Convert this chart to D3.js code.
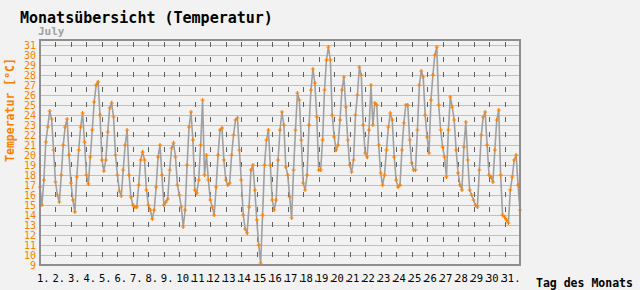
<!DOCTYPE html>
<html>
<head>
<meta charset="utf-8">
<script src="https://cdn.jsdelivr.net/npm/d3@7"></script>
<style>
  body { margin: 0; background: #f2f2f2; }
  svg { display: block; font-family: "DejaVu Sans Mono", monospace; }
</style>
</head>
<body>
<svg id="chart" width="640" height="290"></svg>
<script>
// readings, every 3 hours, one row per day of july
var hours = [0, 3, 6, 9, 12, 15, 18, 21];
var temps = [
  [16.8, 15.0, 17.5, 21.3, 22.8, 24.4, 23.6, 20.5],
  [17.3, 16.0, 15.3, 18.0, 21.0, 22.8, 23.6, 20.0],
  [17.2, 15.5, 14.3, 17.8, 20.5, 22.8, 24.2, 21.3],
  [18.0, 17.1, 19.8, 22.5, 25.3, 27.0, 27.3, 24.0],
  [19.5, 18.4, 19.5, 22.3, 24.7, 25.2, 23.8, 20.0],
  [18.0, 16.4, 15.9, 18.5, 21.0, 22.5, 18.0, 15.8],
  [15.0, 14.8, 14.8, 17.0, 19.5, 20.3, 19.5, 16.5],
  [15.0, 14.5, 13.6, 14.5, 16.8, 19.8, 21.0, 18.0],
  [15.0, 15.3, 15.6, 18.5, 20.7, 21.2, 19.8, 17.0],
  [16.0, 14.8, 12.8, 14.5, 19.0, 22.8, 24.3, 21.5],
  [16.5, 16.2, 17.5, 21.0, 25.5, 18.0, 20.0, 17.5],
  [15.5, 14.8, 14.0, 16.8, 20.0, 22.5, 22.7, 19.5],
  [17.5, 17.0, 17.2, 20.0, 22.0, 23.5, 23.7, 20.5],
  [17.5, 14.0, 12.6, 12.2, 14.8, 18.5, 19.0, 16.5],
  [13.5, 11.0, 9.2, 14.0, 19.0, 21.5, 22.5, 19.0],
  [15.5, 14.5, 15.5, 19.5, 22.5, 24.3, 23.0, 18.8],
  [18.0, 15.8, 13.7, 18.5, 22.5, 26.2, 25.5, 21.5],
  [17.2, 16.5, 18.0, 23.0, 26.5, 28.6, 27.2, 23.8],
  [18.5, 18.5, 21.5, 26.5, 29.5, 30.8, 29.5, 24.0],
  [21.8, 20.5, 21.0, 23.5, 26.5, 27.8, 24.8, 21.5],
  [19.0, 18.3, 19.5, 24.0, 26.0, 28.8, 28.0, 23.0],
  [20.2, 19.8, 22.5, 27.0, 23.0, 25.2, 25.0, 21.0],
  [18.2, 17.0, 18.0, 20.5, 22.8, 24.2, 23.5, 19.8],
  [17.5, 16.8, 17.0, 20.5, 23.2, 25.0, 25.0, 21.5],
  [19.2, 18.5, 18.5, 22.5, 27.0, 28.4, 27.8, 24.0],
  [21.8, 20.2, 25.5, 28.0, 30.0, 30.8, 25.0, 22.5],
  [20.8, 19.8, 17.8, 22.5, 25.8, 24.8, 23.5, 20.5],
  [18.2, 17.0, 16.5, 20.8, 23.3, 19.5, 16.5, 16.0],
  [15.5, 15.0, 14.8, 18.5, 22.0, 23.8, 24.3, 21.0],
  [18.0, 17.8, 17.3, 20.5, 23.5, 24.5, 18.0, 14.0],
  [13.8, 13.5, 13.2, 16.5, 17.8, 19.5, 20.0, 17.0]
];
var endTemp = 14.5; // midnight after the 31st

var dayLabels = d3.range(1, 32).map(function(d){ return d + "."; });
var yTicks = d3.range(9, 32);
var gridTicks = d3.range(10, 32);

var svg = d3.select("#chart");
var orange = "#ff8000";

var plot = {left: 40, right: 520, top: 40, bottom: 265};

var x = d3.scaleLinear().domain([0, 31]).range([plot.left, plot.right]);
var y = d3.scaleLinear().domain([9, 31.5]).range([plot.bottom, plot.top]);

// flatten into (day offset, temp) points
var points = [];
temps.forEach(function(row, i){
    row.forEach(function(t, j){
	points.push({t: i + hours[j] / 24, v: t});
    });
});
points.push({t: 31, v: endTemp});

svg.append("text")
    .attr("x", 20).attr("y", 23)
    .attr("font-size", 15).attr("font-weight", "bold")
    .attr("fill", "#000")
    .text("Monatsübersicht (Temperatur)");

svg.append("text")
    .attr("x", 38).attr("y", 35)
    .attr("font-size", 11).attr("font-weight", "bold")
    .attr("fill", "#a0a0a0")
    .text("July");

// horizontal grid
svg.append("g")
    .selectAll("line").data(gridTicks).enter().append("line")
    .attr("x1", plot.left).attr("x2", plot.right)
    .attr("y1", function(d){ return y(d) + 0.5; })
    .attr("y2", function(d){ return y(d) + 0.5; })
    .attr("stroke", "#c0c0c0").attr("stroke-width", 1);

// dashed day separators
svg.append("g")
    .selectAll("line").data(d3.range(1, 31)).enter().append("line")
    .attr("x1", function(d){ return Math.round(x(d)) + 0.5; })
    .attr("x2", function(d){ return Math.round(x(d)) + 0.5; })
    .attr("y1", plot.top).attr("y2", plot.bottom)
    .attr("stroke", "#606060").attr("stroke-width", 1)
    .attr("stroke-dasharray", "5,10")
    .attr("stroke-dashoffset", 13);

var line = d3.line()
    .x(function(d){ return x(d.t); })
    .y(function(d){ return y(d.v); });

svg.append("path")
    .datum(points)
    .attr("d", line)
    .attr("fill", "none")
    .attr("stroke", "#a0a0a0")
    .attr("stroke-width", 1.6);

svg.append("g")
    .selectAll("path").data(points).enter().append("path")
    .attr("transform", function(d){
	return "translate(" + x(d.t) + "," + y(d.v) + ")";
    })
    .attr("d", "M-2,0H2M0,-2V2")
    .attr("stroke", orange)
    .attr("stroke-width", 1.2);

// frame
svg.append("rect")
    .attr("x", plot.left).attr("y", plot.top)
    .attr("width", plot.right - plot.left).attr("height", plot.bottom - plot.top)
    .attr("fill", "none")
    .attr("stroke", "#8e8e8e").attr("stroke-width", 2);

// y axis
var yAxis = svg.append("g")
    .attr("transform", "translate(" + (plot.left - 4) + ",0)")
    .call(d3.axisLeft(y).tickValues(yTicks).tickSize(0).tickPadding(0));
yAxis.select(".domain").remove();
yAxis.selectAll("text")
    .attr("fill", orange)
    .attr("font-size", 10)
    .attr("font-family", "DejaVu Sans Mono, monospace");

// x axis, labels sit at the start of each day
var xAxis = svg.append("g")
    .attr("transform", "translate(0," + plot.bottom + ")")
    .call(d3.axisBottom(x).tickValues(d3.range(0, 31))
	  .tickFormat(function(d, i){ return dayLabels[i]; })
	  .tickSize(0).tickPadding(0));
xAxis.select(".domain").remove();
xAxis.selectAll("text")
    .attr("text-anchor", "start")
    .attr("dx", -3.5)
    .attr("y", 17).attr("dy", 0)
    .attr("fill", "#000")
    .attr("font-size", 10.5)
    .attr("font-family", "DejaVu Sans Mono, monospace");

svg.append("text")
    .attr("transform", "translate(14,110) rotate(-90)")
    .attr("text-anchor", "middle")
    .attr("font-size", 11.5).attr("font-weight", "bold")
    .attr("fill", orange)
    .text("Temperatur [°C]");

svg.append("text")
    .attr("x", 536).attr("y", 287)
    .attr("font-size", 11.5).attr("font-weight", "bold")
    .attr("fill", "#000")
    .text("Tag des Monats");
</script>
</body>
</html>
